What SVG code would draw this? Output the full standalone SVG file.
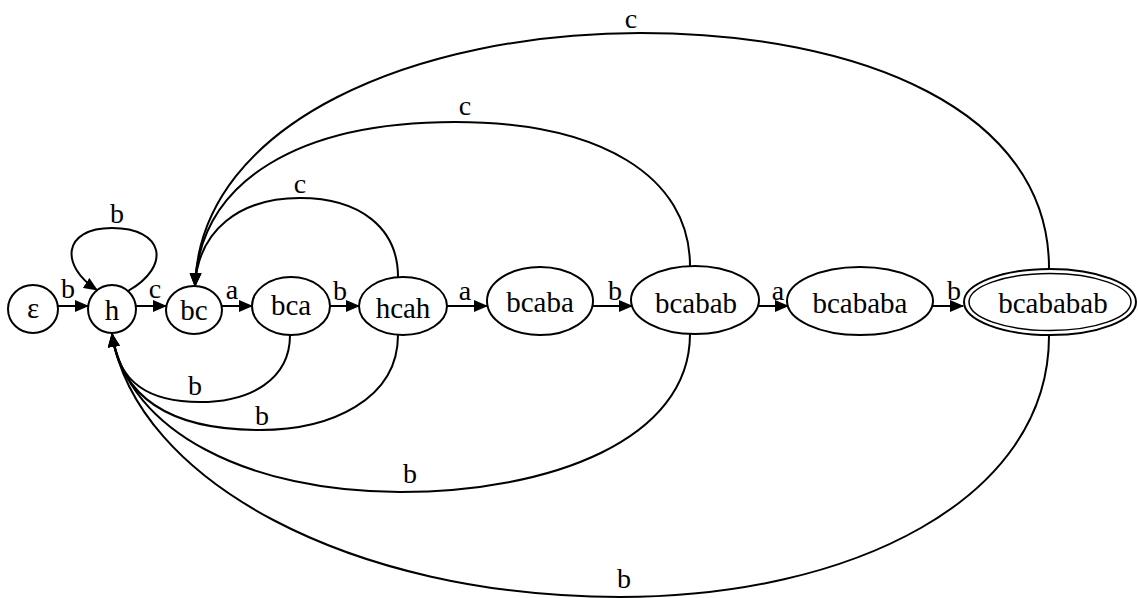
<svg xmlns="http://www.w3.org/2000/svg" width="1138" height="598" viewBox="0 0 1138 598">
  <style>
    .node { fill: #fff; stroke: #000; stroke-width: 2; }
    .edge { fill: none; stroke: #000; stroke-width: 2; }
    .lbl { font-family: "Liberation Serif", "Times New Roman", serif; font-size: 29px; fill: #000; text-anchor: middle; }
    .elbl { font-family: "Liberation Serif", "Times New Roman", serif; font-size: 28px; fill: #000; text-anchor: middle; }
  </style>
  <defs>
    <marker id="arrow" markerUnits="userSpaceOnUse" markerWidth="14" markerHeight="12" viewBox="0 0 14 12" refX="13" refY="6" orient="auto">
      <path d="M0,0 L14,6 L0,12 Z" fill="#000"/>
    </marker>
  </defs>
  <rect width="1138" height="598" fill="#fff"/>

  <!-- transitions -->
  <g id="edges">
    <!-- spine -->
    <line class="edge" x1="58" y1="306" x2="88" y2="306" marker-end="url(#arrow)"/>
    <line class="edge" x1="136" y1="306" x2="166" y2="306" marker-end="url(#arrow)"/>
    <line class="edge" x1="222" y1="306" x2="252" y2="306" marker-end="url(#arrow)"/>
    <line class="edge" x1="330" y1="306" x2="359" y2="306" marker-end="url(#arrow)"/>
    <line class="edge" x1="447" y1="306" x2="487" y2="306" marker-end="url(#arrow)"/>
    <line class="edge" x1="593" y1="306" x2="632" y2="306" marker-end="url(#arrow)"/>
    <line class="edge" x1="759" y1="306" x2="788" y2="306" marker-end="url(#arrow)"/>
    <line class="edge" x1="933" y1="306" x2="963" y2="306" marker-end="url(#arrow)"/>

    <!-- self loop on h -->
    <path class="edge" d="M128,291 C172,266 164,228 112,228 C62,228 60,266 97,290" marker-end="url(#arrow)"/>

    <!-- c back to bc -->
    <path class="edge" d="M398,277 C398,228 360,198 300,198 C240,198 198,230 195,286" marker-end="url(#arrow)"/>
    <path class="edge" d="M690,266 C690,176 600,122 455,122 C300,122 200,180 195,286" marker-end="url(#arrow)"/>
    <path class="edge" d="M1049,268 C1049,110 860,33 640,33 C420,33 200,120 195,286" marker-end="url(#arrow)"/>

    <!-- b back to h -->
    <path class="edge" d="M290,335 C290,380 250,402 200,402 C150,402 118,384 112,334" marker-end="url(#arrow)"/>
    <path class="edge" d="M398,335 C398,400 330,430 260,430 C180,430 122,404 112,334" marker-end="url(#arrow)"/>
    <path class="edge" d="M690,334 C690,440 550,492 400,492 C250,492 128,432 112,334" marker-end="url(#arrow)"/>
    <path class="edge" d="M1049,336 C1049,500 850,597 620,597 C350,597 136,480 112,334" marker-end="url(#arrow)"/>

    <!-- labels -->
    <text class="elbl" x="68" y="298">b</text>
    <text class="elbl" x="155" y="298">c</text>
    <text class="elbl" x="232" y="299">a</text>
    <text class="elbl" x="340" y="300">b</text>
    <text class="elbl" x="465" y="300">a</text>
    <text class="elbl" x="615" y="300">b</text>
    <text class="elbl" x="778" y="300">a</text>
    <text class="elbl" x="954" y="300">b</text>
    <text class="elbl" x="117" y="223">b</text>
    <text class="elbl" x="300" y="193">c</text>
    <text class="elbl" x="465" y="115">c</text>
    <text class="elbl" x="631" y="28">c</text>
    <text class="elbl" x="195" y="395">b</text>
    <text class="elbl" x="262" y="425">b</text>
    <text class="elbl" x="410" y="483">b</text>
    <text class="elbl" x="624" y="588">b</text>
  </g>

  <!-- states -->
  <g id="s-eps"><ellipse class="node" cx="33" cy="309" rx="25" ry="24"/><text class="lbl" x="33" y="318">ε</text></g>
  <g id="s-h"><ellipse class="node" cx="112" cy="309" rx="24" ry="24"/><text class="lbl" x="112" y="320">h</text></g>
  <g id="s-bc"><ellipse class="node" cx="194" cy="310" rx="28" ry="24"/><text class="lbl" x="194" y="320">bc</text></g>
  <g id="s-bca"><ellipse class="node" cx="291" cy="306" rx="39" ry="29"/><text class="lbl" x="291" y="315">bca</text></g>
  <g id="s-bcab"><ellipse class="node" cx="403" cy="306" rx="44" ry="29"/><text class="lbl" x="403" y="318">hcah</text></g>
  <g id="s-bcaba"><ellipse class="node" cx="540" cy="301" rx="53" ry="34"/><text class="lbl" x="540" y="312">bcaba</text></g>
  <g id="s-bcabab"><ellipse class="node" cx="695" cy="300" rx="64" ry="34"/><text class="lbl" x="696" y="313">bcabab</text></g>
  <g id="s-bcababa"><ellipse class="node" cx="860" cy="301" rx="73" ry="34"/><text class="lbl" x="860" y="313">bcababa</text></g>
  <g id="s-bcababab">
    <ellipse class="node" cx="1050" cy="302" rx="86" ry="33" stroke-width="4"/>
    <ellipse cx="1050" cy="302" rx="81" ry="28.5" fill="none" stroke="#000" stroke-width="1.5"/>
    <text class="lbl" x="1053" y="313">bcababab</text>
  </g>
</svg>
